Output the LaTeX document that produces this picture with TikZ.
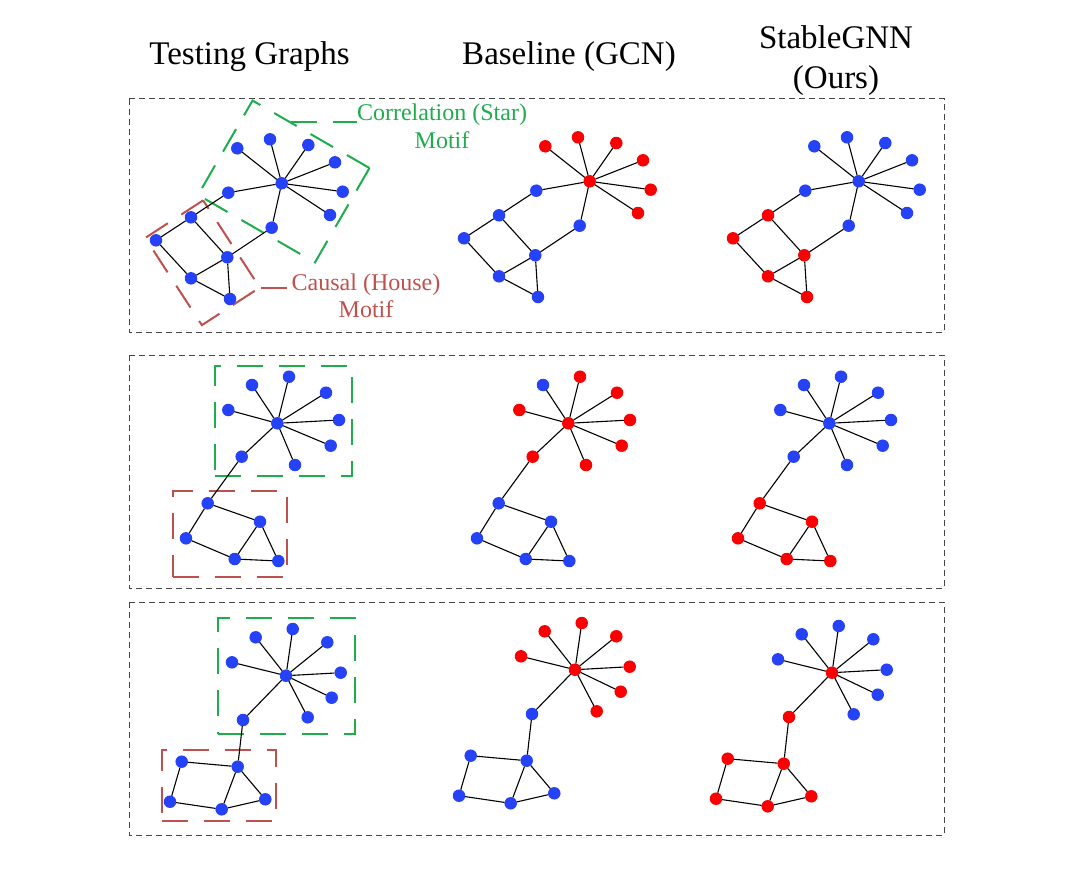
\documentclass[tikz,border=0pt]{standalone}
\usepackage{fontspec}
\setmainfont{Liberation Serif}
\usepackage{tikz}
\usetikzlibrary{calc,positioning}
\definecolor{gnnBlue}{RGB}{38,66,247}
\definecolor{gnnRed}{RGB}{250,0,0}
\definecolor{motifGreen}{RGB}{30,172,76}
\definecolor{motifRed}{RGB}{192,80,77}
\definecolor{panelGray}{RGB}{70,70,70}

\begin{document}
\begin{tikzpicture}[x=1pt, y=-1pt]%
  \tikzset{gnode/.style={circle, draw=none, minimum size=12.5pt, inner sep=0pt, outer sep=0pt},
           gedge/.style={line width=1.1pt, black},
           panel/.style={draw=panelGray, line width=1pt, dash pattern=on 6pt off 4pt},
           corrbox/.style={draw=motifGreen, line width=2pt, dash pattern=on 26pt off 16pt, inner sep=0pt},
           causbox/.style={draw=motifRed, line width=2pt, dash pattern=on 26pt off 16pt, inner sep=0pt},
           head/.style={font=\fontsize{33}{39.5}\selectfont, inner sep=0pt, anchor=base},
           motiftext/.style={font=\fontsize{24}{27}\selectfont, inner sep=0pt, anchor=base}}
  \useasboundingbox (0,0) rectangle (1078,872);

  \node[head] (testing) at (249.5,65) {Testing Graphs};
  \node[head] (baseline) at (569,65) {Baseline (GCN)};
  \node[head] (stable) at (836,49) {StableGNN};
  \node[head] (ours) at ([yshift=-39.5pt]stable.base) {(Ours)};

  \draw[panel] (129,99) rectangle (944,332);
  \draw[panel] (129,355) rectangle (944,588);
  \draw[panel] (129,602) rectangle (944,835);

  % motif boxes (testing graphs only)
  \node[corrbox, rotate=-30, minimum width=135pt, minimum height=109pt] (corr1) at (283.75,181.5) {};
  \node[causbox, rotate=33, minimum width=69pt, minimum height=104pt] (caus1) at (202.5,262.75) {};
  \node[corrbox, minimum width=137pt, minimum height=110pt] (corr2) at (283.5,421) {};
  \node[causbox, minimum width=114pt, minimum height=86pt] (caus2) at (230,534) {};
  \node[corrbox, minimum width=137pt, minimum height=116pt] (corr3) at (286.5,676) {};
  \node[causbox, minimum width=114pt, minimum height=71pt] (caus3) at (219,785.5) {};

  \node[motiftext, text=motifGreen] (corrlabel) at (442,121) {Correlation (Star)};
  \node[motiftext, text=motifGreen] (corrmotif) at ([yshift=-27pt]corrlabel.base) {Motif};
  \node[motiftext, text=motifRed] (causlabel) at (366,290) {Causal (House)};
  \node[motiftext, text=motifRed] (causmotif) at ([yshift=-27pt]causlabel.base) {Motif};
  \coordinate (corrtip) at ($(corr1.north west)!0.33!(corr1.north east)$);
  \draw[corrbox] (corrtip) -- (corrtip -| corrlabel.west);
  \draw[causbox] (caus1.south east) -- ([xshift=-3pt]caus1.south east -| causlabel.west);

  % row 1
  \foreach \p/\dx/\dy/\hub/\leaf/\link/\house in {T/0/0/gnnBlue/gnnBlue/gnnBlue/gnnBlue,
      B/308/-2/gnnRed/gnnRed/gnnBlue/gnnBlue, S/577/-2/gnnBlue/gnnBlue/gnnBlue/gnnRed}{
    \begin{scope}[shift={(\dx,\dy)}]
      \node[gnode, fill=\hub] (\p1c) at (281.7,183.3) {};
      \foreach \n/\x/\y in {l1/237.3/148.3, l2/270/139.3, l3/308.3/145, l4/335/162.3, l5/342.7/191.7, l6/330/215}
        \node[gnode, fill=\leaf] (\p1\n) at (\x,\y) {};
      \foreach \n/\x/\y in {ka/228.3/192.7, kb/271.7/227.7}
        \node[gnode, fill=\link] (\p1\n) at (\x,\y) {};
      \foreach \n/\x/\y in {h1/191/217.3, h2/156/240.3, h3/227.3/257.3, h4/191/278.3, h5/230/299}
        \node[gnode, fill=\house] (\p1\n) at (\x,\y) {};
      \foreach \n in {l1,l2,l3,l4,l5,l6,ka,kb}
        \draw[gedge] (\p1c) -- (\p1\n);
      \foreach \a/\b in {ka/h1, kb/h3, h1/h2, h1/h3, h2/h4, h3/h4, h3/h5, h4/h5}
        \draw[gedge] (\p1\a) -- (\p1\b);
    \end{scope}
  }

  % row 2
  \foreach \p/\dx/\dy/\hub/\leafa/\leaf/\link/\house in {T/0/0/gnnBlue/gnnBlue/gnnBlue/gnnBlue/gnnBlue,
      B/291/0/gnnRed/gnnBlue/gnnRed/gnnRed/gnnBlue, S/552/0/gnnBlue/gnnBlue/gnnBlue/gnnBlue/gnnRed}{
    \begin{scope}[shift={(\dx,\dy)}]
      \node[gnode, fill=\hub] (\p2c) at (277.3,423.3) {};
      \node[gnode, fill=\leafa] (\p2l1) at (252,385) {};
      \foreach \n/\x/\y in {l2/289/376.7, l3/326/392.7, l4/339/420, l5/330.7/445.7, l6/295/465, l7/228.3/410}
        \node[gnode, fill=\leaf] (\p2\n) at (\x,\y) {};
      \node[gnode, fill=\link] (\p2k) at (241.7,456.7) {};
      \foreach \n/\x/\y in {h1/207.7/503.3, h2/186/538.3, h3/260/521.7, h4/234.7/559, h5/278.3/561}
        \node[gnode, fill=\house] (\p2\n) at (\x,\y) {};
      \foreach \n in {l1,l2,l3,l4,l5,l6,l7,k}
        \draw[gedge] (\p2c) -- (\p2\n);
      \foreach \a/\b in {k/h1, h1/h2, h1/h3, h2/h4, h3/h4, h3/h5, h4/h5}
        \draw[gedge] (\p2\a) -- (\p2\b);
    \end{scope}
  }

  % row 3
  \foreach \p/\dx/\dy/\hub/\leaf/\link/\house in {T/0/0/gnnBlue/gnnBlue/gnnBlue/gnnBlue,
      B/289/-6/gnnRed/gnnRed/gnnBlue/gnnBlue, S/546/-3/gnnRed/gnnBlue/gnnRed/gnnRed}{
    \begin{scope}[shift={(\dx,\dy)}]
      \node[gnode, fill=\hub] (\p3c) at (286,675.7) {};
      \foreach \n/\x/\y in {l1/255.7/637.3, l2/292.7/629, l3/327.3/642.3, l4/340.7/672.7, l5/331.7/697.7, l6/307.7/717.3, l7/232/662.3}
        \node[gnode, fill=\leaf] (\p3\n) at (\x,\y) {};
      \node[gnode, fill=\link] (\p3k) at (243,720) {};
      \foreach \n/\x/\y in {h1/237.7/766.7, h2/181.7/761.7, h3/170/801.7, h4/221.7/809.3, h5/265.3/799.3}
        \node[gnode, fill=\house] (\p3\n) at (\x,\y) {};
      \foreach \n in {l1,l2,l3,l4,l5,l6,l7,k}
        \draw[gedge] (\p3c) -- (\p3\n);
      \foreach \a/\b in {k/h1, h1/h2, h2/h3, h3/h4, h4/h1, h1/h5, h5/h4}
        \draw[gedge] (\p3\a) -- (\p3\b);
    \end{scope}
  }
\end{tikzpicture}
\end{document}
